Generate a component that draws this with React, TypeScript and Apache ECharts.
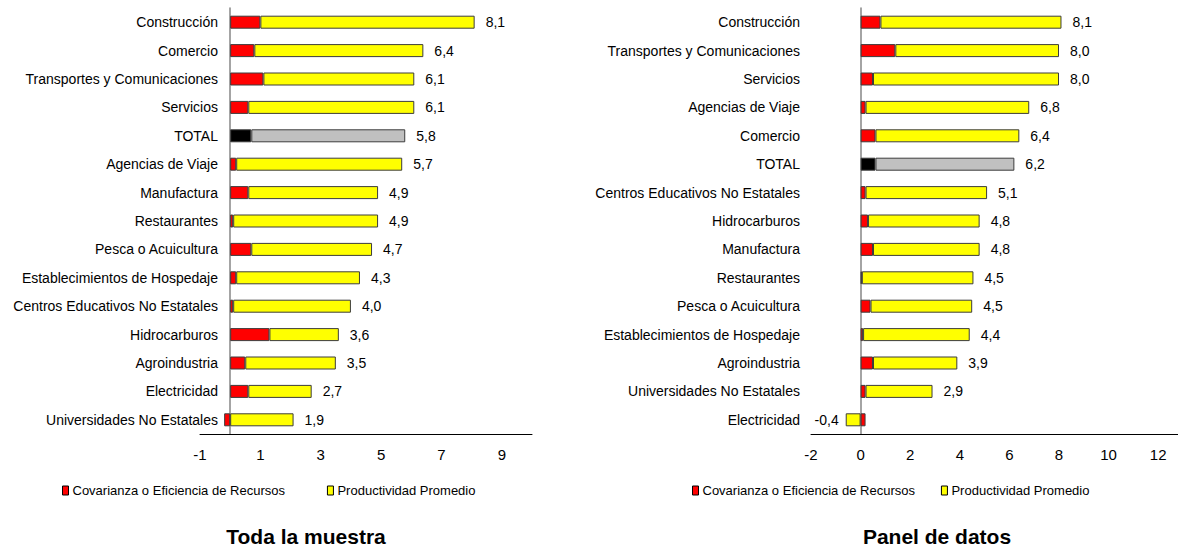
import React, { useEffect, useRef } from "react";
import * as echarts from "echarts";

const categoriesLeft = [
  "Construcción",
  "Comercio",
  "Transportes y Comunicaciones",
  "Servicios",
  "TOTAL",
  "Agencias de Viaje",
  "Manufactura",
  "Restaurantes",
  "Pesca o Acuicultura",
  "Establecimientos de Hospedaje",
  "Centros Educativos No Estatales",
  "Hidrocarburos",
  "Agroindustria",
  "Electricidad",
  "Universidades No Estatales",
];
const covLeft = [1.0, 0.8, 1.1, 0.6, 0.7, 0.2, 0.6, 0.1, 0.7, 0.2, 0.1, 1.3, 0.5, 0.6, -0.2];
const prodLeft = [7.1, 5.6, 5.0, 5.5, 5.1, 5.5, 4.3, 4.8, 4.0, 4.1, 3.9, 2.3, 3.0, 2.1, 2.1];
const totalLeft = [8.1, 6.4, 6.1, 6.1, 5.8, 5.7, 4.9, 4.9, 4.7, 4.3, 4.0, 3.6, 3.5, 2.7, 1.9];

const categoriesRight = [
  "Construcción",
  "Transportes y Comunicaciones",
  "Servicios",
  "Agencias de Viaje",
  "Comercio",
  "TOTAL",
  "Centros Educativos No Estatales",
  "Hidrocarburos",
  "Manufactura",
  "Restaurantes",
  "Pesca o Acuicultura",
  "Establecimientos de Hospedaje",
  "Agroindustria",
  "Universidades No Estatales",
  "Electricidad",
];
const covRight = [0.8, 1.4, 0.5, 0.2, 0.6, 0.6, 0.2, 0.3, 0.5, 0.05, 0.4, 0.1, 0.5, 0.2, 0.2];
const prodRight = [7.3, 6.6, 7.5, 6.6, 5.8, 5.6, 4.9, 4.5, 4.3, 4.5, 4.1, 4.3, 3.4, 2.7, -0.6];
const totalRight = [8.1, 8.0, 8.0, 6.8, 6.4, 6.2, 5.1, 4.8, 4.8, 4.5, 4.5, 4.4, 3.9, 2.9, -0.4];

const seriesNames = ["Covarianza o Eficiencia de Recursos", "Productividad Promedio"];
const titles = ["Toda la muestra", "Panel de datos"];

const ARIAL = "'Liberation Sans', Arial, sans-serif";

const fmt = (v: number) => v.toFixed(1).replace(".", ",");

function buildSeries(
  idx: number,
  cats: string[],
  cov: number[],
  prod: number[],
  totals: number[]
) {
  const totalIdx = cats.indexOf("TOTAL");
  const border = { borderColor: "#3c3c3c", borderWidth: 1 };
  return [
    {
      name: seriesNames[0],
      type: "bar",
      xAxisIndex: idx,
      yAxisIndex: idx,
      stack: "s" + idx,
      barWidth: 13,
      itemStyle: { color: "#ff0000", ...border },
      data: cov.map((v, i) =>
        i === totalIdx ? { value: v, itemStyle: { color: "#000000" } } : v
      ),
    },
    {
      name: seriesNames[1],
      type: "bar",
      xAxisIndex: idx,
      yAxisIndex: idx,
      stack: "s" + idx,
      barWidth: 13,
      itemStyle: { color: "#ffff00", ...border },
      label: {
        show: true,
        position: "right",
        distance: 11,
        color: "#000",
        fontFamily: ARIAL,
        fontSize: 14,
        formatter: (p: any) => fmt(totals[p.dataIndex]),
      },
      data: prod.map((v, i) => {
        const item: any = { value: v };
        if (i === totalIdx) item.itemStyle = { color: "#c0c0c0" };
        if (v < 0) item.label = { position: "left", distance: 7 };
        return item;
      }),
    },
  ];
}

export default function App() {
  const ref = useRef<HTMLDivElement>(null);
  useEffect(() => {
    if (!ref.current) return;
    const chart = echarts.init(ref.current, undefined, { renderer: "svg" });
    const catAxis = (idx: number, cats: string[], margin: number) => ({
      type: "category",
      gridIndex: idx,
      data: cats,
      inverse: true,
      axisLine: { show: true, onZero: true, lineStyle: { color: "#868686", width: 1.5 } },
      axisTick: { show: false },
      axisLabel: {
        color: "#000",
        fontFamily: ARIAL,
        fontSize: 14,
        margin,
        interval: 0,
      },
    });
    const valAxis = (idx: number, min: number, max: number) => ({
      type: "value",
      gridIndex: idx,
      min,
      max,
      interval: 2,
      splitLine: { show: false },
      axisTick: { show: false },
      axisLine: { show: true, onZero: false, lineStyle: { color: "#000", width: 1 } },
      axisLabel: {
        color: "#000",
        fontFamily: ARIAL,
        fontSize: 15,
        margin: 13,
        showMaxLabel: false,
        formatter: (v: number) => String(v),
      },
    });
    const legendBase = {
      icon: "rect",
      itemWidth: 6,
      itemHeight: 9,
      orient: "horizontal",
      textStyle: { color: "#000", fontFamily: ARIAL, fontSize: 13, padding: [0, 0, 0, -1] },
      itemStyle: { borderColor: "#000", borderWidth: 1 },
      data: seriesNames,
      selectedMode: false,
    };
    chart.setOption({
      animation: false,
      backgroundColor: "#ffffff",
      grid: [
        { left: 200, top: 8, width: 332, height: 426, containLabel: false, outerBoundsMode: "none" },
        { left: 811, top: 8, width: 372, height: 426, containLabel: false, outerBoundsMode: "none" },
      ],
      xAxis: [valAxis(0, -1, 10), valAxis(1, -2, 13)],
      yAxis: [catAxis(0, categoriesLeft, -18), catAxis(1, categoriesRight, 11)],
      legend: [
        { ...legendBase, left: 57, top: 479, itemGap: 42 },
        { ...legendBase, left: 687, top: 479, itemGap: 26 },
      ],
      graphic: [
        {
          type: "text",
          x: 306,
          y: 536,
          style: {
            text: titles[0],
            fontFamily: ARIAL,
            fontWeight: "bold",
            fontSize: 21,
            fill: "#000",
            textAlign: "center",
            textVerticalAlign: "middle",
          },
        },
        {
          type: "text",
          x: 937,
          y: 536,
          style: {
            text: titles[1],
            fontFamily: ARIAL,
            fontWeight: "bold",
            fontSize: 21,
            fill: "#000",
            textAlign: "center",
            textVerticalAlign: "middle",
          },
        },
      ],
      series: [
        ...buildSeries(0, categoriesLeft, covLeft, prodLeft, totalLeft),
        ...buildSeries(1, categoriesRight, covRight, prodRight, totalRight),
      ],
    });
    return () => chart.dispose();
  }, []);
  return (
    <div
      ref={ref}
      style={{ position: "fixed", left: 0, top: 0, width: 1178, height: 548, background: "#fff" }}
    />
  );
}
